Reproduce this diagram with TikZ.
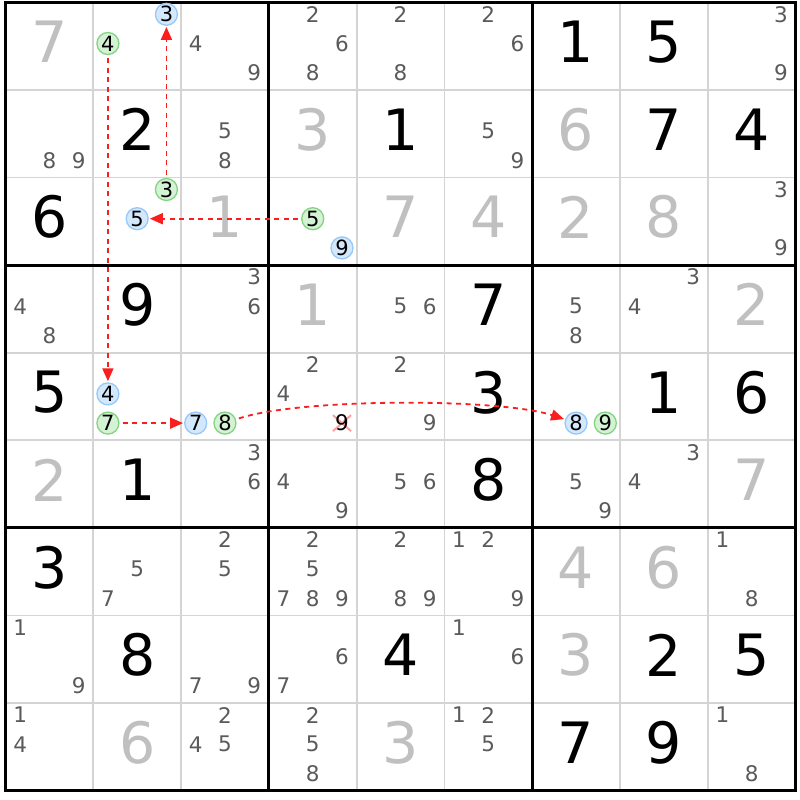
\documentclass[tikz,border=0pt]{standalone}
\usepackage{fontspec}
\setmainfont{DejaVu Sans}
\usetikzlibrary{arrows.meta}
\definecolor{thinc}{RGB}{212,212,212}
\definecolor{given}{RGB}{192,192,192}
\definecolor{candc}{RGB}{90,90,90}
\definecolor{bfill}{RGB}{212,232,252}
\definecolor{bline}{RGB}{150,200,250}
\definecolor{gfill}{RGB}{212,242,212}
\definecolor{gline}{RGB}{130,212,130}
\definecolor{arrred}{RGB}{250,30,30}
\definecolor{xpink}{RGB}{255,160,160}
\newcommand\setpos[3]{%
  \pgfmathsetmacro\posx{5.5+(#2-1)*87.78+(2*mod(#3-1,3)+1)*14.63}%
  \pgfmathsetmacro\posy{2.2+(#1-1)*87.6+(2*floor((#3-1)/3)+1)*14.6-2.5}}
\begin{document}
\begin{tikzpicture}[x=1pt,y=-1pt,
  big/.style={font=\fontsize{57}{57}\selectfont, inner sep=0pt, anchor=center},
  solved/.style={big, text=black},
  givenv/.style={big, text=given},
  cand/.style={font=\fontsize{21.5}{21.5}\selectfont, inner sep=0pt, text=candc},
  crossed/.style={cand, text=black},
  ring/.style={circle, inner sep=0pt, minimum size=22pt, line width=1.3pt,
    font=\fontsize{21}{21}\selectfont, text=black},
  bring/.style={ring, draw=bline, fill=bfill},
  gring/.style={ring, draw=gline, fill=gfill},
  thinline/.style={draw=thinc, line width=1.8pt},
  thickline/.style={draw=black, line width=3pt},
  link/.style={draw=arrred, line width=1.8pt, dash pattern=on 5pt off 4.5pt,
    -{Triangle[length=13pt,width=11pt]}, shorten >=1pt, shorten <=3pt},
  xmark/.style={draw=xpink, line width=2pt},
]
\useasboundingbox (0,0) rectangle (800,800);
\fill[white] (0,0) rectangle (800,800);
% thin grid
\foreach \i in {1,2,4,5,7,8} {
  \draw[thinline] ({5.5+\i*87.78},2.2) -- ({5.5+\i*87.78},790.6);
  \draw[thinline] (5.5,{2.2+\i*87.6}) -- (795.5,{2.2+\i*87.6});
}
% thick grid
\foreach \i in {3,6} {
  \draw[thickline] ({5.5+\i*87.78},2.2) -- ({5.5+\i*87.78},790.6);
  \draw[thickline] (5.5,{2.2+\i*87.6}) -- (795.5,{2.2+\i*87.6});
}
\draw[thickline] (5.5,2.2) rectangle (795.5,790.6);
% big digits
\foreach \r/\c/\d/\st in {
  1/1/7/givenv, 1/7/1/solved, 1/8/5/solved,
  2/2/2/solved, 2/4/3/givenv, 2/5/1/solved, 2/7/6/givenv, 2/8/7/solved, 2/9/4/solved,
  3/1/6/solved, 3/3/1/givenv, 3/5/7/givenv, 3/6/4/givenv, 3/7/2/givenv, 3/8/8/givenv,
  4/2/9/solved, 4/4/1/givenv, 4/6/7/solved, 4/9/2/givenv,
  5/1/5/solved, 5/6/3/solved, 5/8/1/solved, 5/9/6/solved,
  6/1/2/givenv, 6/2/1/solved, 6/6/8/solved, 6/9/7/givenv,
  7/1/3/solved, 7/7/4/givenv, 7/8/6/givenv,
  8/2/8/solved, 8/5/4/solved, 8/7/3/givenv, 8/8/2/solved, 8/9/5/solved,
  9/2/6/givenv, 9/5/3/givenv, 9/7/7/solved, 9/8/9/solved} {
  \pgfmathsetmacro\posx{5.5+(\c-0.5)*87.78}
  \pgfmathsetmacro\posy{2.2+(\r-0.5)*87.6-4}
  \node[\st] (s\r\c) at (\posx,\posy) {\d};
}
% candidates
\foreach \r/\c/\d in {
  1/3/4,1/3/9,1/4/2,1/4/6,1/4/8,1/5/2,1/5/8,1/6/2,1/6/6,1/9/3,1/9/9,
  2/1/8,2/1/9,2/3/5,2/3/8,2/6/5,2/6/9,
  3/9/3,3/9/9,
  4/1/4,4/1/8,4/3/3,4/3/6,4/5/5,4/5/6,4/7/5,4/7/8,4/8/3,4/8/4,
  5/4/2,5/4/4,5/5/2,5/5/9,
  6/3/3,6/3/6,6/4/4,6/4/9,6/5/5,6/5/6,6/7/5,6/7/9,6/8/3,6/8/4,
  7/2/5,7/2/7,7/3/2,7/3/5,7/4/2,7/4/5,7/4/7,7/4/8,7/4/9,7/5/2,7/5/8,7/5/9,
  7/6/1,7/6/2,7/6/9,7/9/1,7/9/8,
  8/1/1,8/1/9,8/3/7,8/3/9,8/4/6,8/4/7,8/6/1,8/6/6,
  9/1/1,9/1/4,9/3/2,9/3/4,9/3/5,9/4/2,9/4/5,9/4/8,9/6/1,9/6/2,9/6/5,9/9/1,9/9/8} {
  \setpos{\r}{\c}{\d}
  \node[cand] (c\r\c\d) at (\posx,\posy) {\d};
}
% eliminated candidate
\setpos{5}{4}{9}
\coordinate (x549) at (\posx,\posy);
\draw[xmark] ([shift={(-9,-8)}]x549) -- ([shift={(9,8)}]x549);
\draw[xmark] ([shift={(-9,8)}]x549) -- ([shift={(9,-8)}]x549);
\node[crossed] (c549) at (x549) {9};
% ringed candidates
\foreach \r/\c/\d/\st in {
  1/2/3/bring, 1/2/4/gring, 3/2/3/gring, 3/2/5/bring, 3/4/5/gring, 3/4/9/bring,
  5/2/4/bring, 5/2/7/gring, 5/3/7/bring, 5/3/8/gring, 5/7/8/bring, 5/7/9/gring} {
  \setpos{\r}{\c}{\d}
  \node[\st] (k\r\c\d) at (\posx,\posy) {\d};
}
% links
\draw[link] (k124) -- (k524);
\draw[link] (k323) -- (k123);
\draw[link] (k345) -- (k325);
\draw[link] (k527) -- (k537);
\draw[link] (k538) .. controls (300,398) and (500,398) .. (k578);
\end{tikzpicture}
\end{document}
